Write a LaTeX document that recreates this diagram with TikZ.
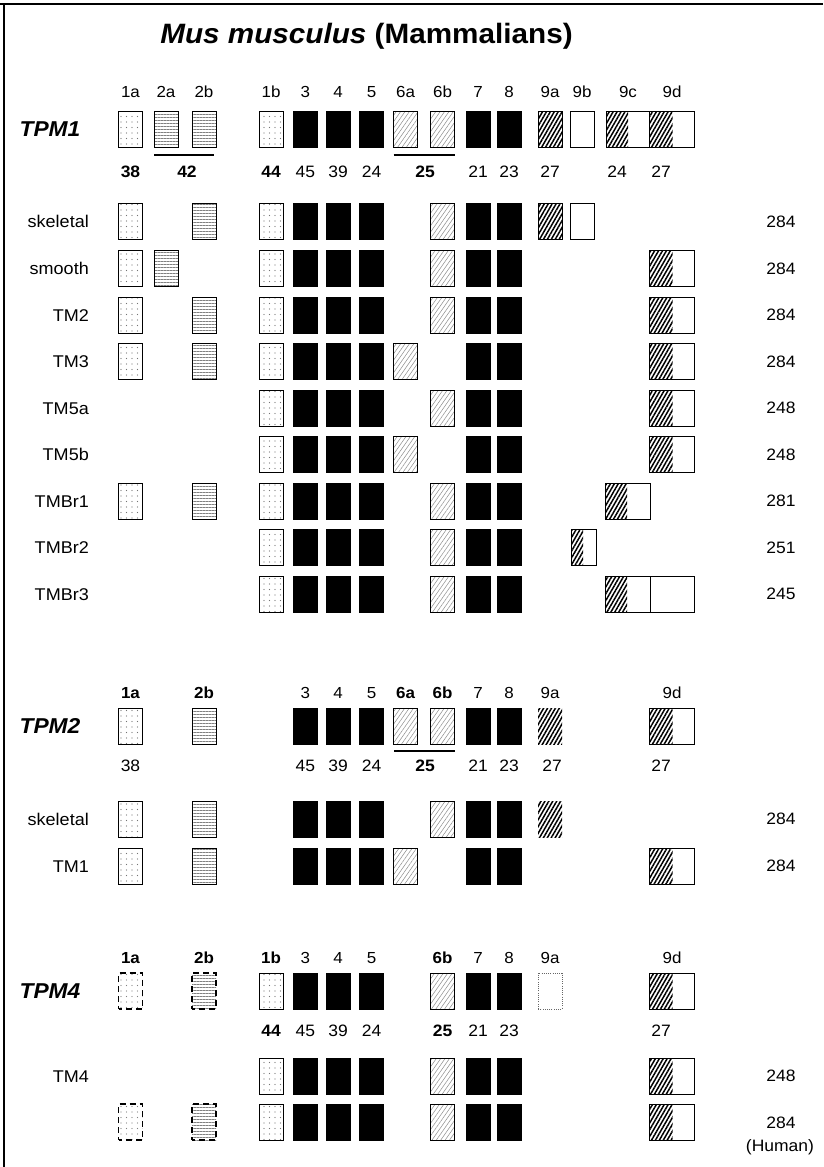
\documentclass[tikz,border=0pt]{standalone}
\usepackage{fontspec}
\setmainfont[FakeStretch=1.06]{Liberation Sans}
\usetikzlibrary{patterns.meta}
\def\colA{130.5}\def\colB{166}\def\colC{204}\def\colD{271}\def\colE{305.3}
\def\colF{338}\def\colG{371.7}\def\colH{405.5}\def\colI{442.5}\def\colJ{478}
\def\colK{509}\def\colL{550}\def\colM{582}
\newcommand\ex[3]{\path[#1] ({#2-12},{-(#3)-18}) rectangle ({#2+12},{-(#3)+18});}
\newcommand\halfbox[4]{%
  \path[strb] (#1,{-(#4)-18}) rectangle (#2,{-(#4)+18});
  \draw[bx] (#1,{-(#4)-18}) rectangle (#3,{-(#4)+18});}
\newcommand\corerow[1]{%
  \ex{dotbox}{\colD}{#1}\ex{blk}{\colE}{#1}\ex{blk}{\colF}{#1}\ex{blk}{\colG}{#1}
  \ex{blk}{\colJ}{#1}\ex{blk}{\colK}{#1}}
\newcommand\ninedee[1]{\halfbox{649.5}{672.5}{694}{#1}}
\begin{document}
\begin{tikzpicture}[x=1pt,y=1pt,
  bx/.style={draw=black,line width=1pt},
  dotbox/.style={bx,pattern={Dots[radius=0.6pt,distance=5.5pt]},pattern color=black!55},
  hlbox/.style={bx,pattern={Lines[angle=0,distance=3pt,line width=0.8pt]},pattern color=black!50},
  diagbox/.style={bx,pattern={Lines[angle=55,distance=3.6pt,line width=0.5pt]},pattern color=black!45},
  strb/.style={pattern={Lines[angle=60,distance=3.4pt,line width=1.5pt]},pattern color=black},
  strbox/.style={bx,strb},
  blk/.style={draw=black,fill=black,line width=1pt},
  wht/.style={bx,fill=white},
  dashdot/.style={draw=black,line width=1.1pt,dash pattern=on 6pt off 4pt,dash phase=3pt,pattern={Dots[radius=0.6pt,distance=5.5pt]},pattern color=black!50},
  dashhl/.style={draw=black,line width=1.1pt,dash pattern=on 6pt off 4pt,dash phase=3pt,pattern={Lines[angle=0,distance=3pt,line width=0.8pt]},pattern color=black!50},
  dotted9/.style={draw=black!60,line width=0.9pt,dash pattern=on 1pt off 1.2pt},
  hdr/.style={font=\fontsize{16}{18}\selectfont,inner sep=0pt,text height=11.4pt,text depth=0pt},
  hdrb/.style={hdr,font=\fontsize{16}{18}\selectfont\bfseries},
  num/.style={font=\fontsize{16.5}{18}\selectfont,inner sep=0pt,text height=11.8pt,text depth=0pt},
  numb/.style={num,font=\fontsize{16.5}{18}\selectfont\bfseries},
  rowlab/.style={font=\fontsize{17}{19}\selectfont,anchor=east,inner sep=0pt,text height=12.2pt,text depth=0pt},
  rnum/.style={font=\fontsize{16.5}{19}\selectfont,inner sep=0pt,text height=11.8pt,text depth=0pt},
  gene/.style={font=\fontsize{21.5}{24}\selectfont\bfseries\itshape,inner sep=0pt,text height=15.4pt,text depth=0pt},
  uline/.style={draw=black,line width=1.4pt}]
\useasboundingbox (0,0) rectangle (823,-1167);
\fill[white] (0,0) rectangle (823,-1167);
\draw[line width=2pt] (0,-4.3) -- (823,-4.3);
\draw[line width=1.3pt] (4,-4.3) -- (4,-1167);
\node[font=\fontsize{28}{32}\selectfont\bfseries] (title) at (366.5,-36) {\textit{Mus musculus} (Mammalians)};
% ---------------- TPM1 ----------------
\node[gene] (g1) at (50,-129) {TPM1};
\foreach \xx/\tt/\nn in {\colA/1a/a,\colB/2a/b,\colC/2b/c,\colD/1b/d,\colE/3/e,\colF/4/f,\colG/5/g,\colH/6a/h,\colI/6b/i,\colJ/7/j,\colK/8/k,\colL/9a/l,\colM/9b/m,628/9c/n,672/9d/o}
  \node[hdr] (h1\nn) at (\xx,-91.7) {\tt};
\ex{dotbox}{\colA}{129}\ex{hlbox}{\colB}{129}\ex{hlbox}{\colC}{129}
\corerow{129}\ex{diagbox}{\colH}{129}\ex{diagbox}{\colI}{129}
\ex{strbox}{\colL}{129}\ex{wht}{\colM}{129}
\path[strb] (606,-147) rectangle (628,-111);
\path[strb] (649.5,-147) rectangle (672.5,-111);
\draw[bx] (606,-147) rectangle (694,-111);
\draw[bx] (649.5,-147) -- (649.5,-111);
\coordinate (u1a) at (154,-155); \coordinate (u1b) at (214,-155);
\coordinate (u2a) at (393.5,-155); \coordinate (u2b) at (454.5,-155);
\draw[uline] (u1a) -- (u1b); \draw[uline] (u2a) -- (u2b);
\node[numb] (n1a) at (\colA,-171.7) {38};
\node[numb] (n1b) at (187,-171.7) {42};
\node[numb] (n1c) at (\colD,-171.7) {44};
\node[num] (n1d) at (\colE,-171.7) {45};
\node[num] (n1e) at (\colF,-171.7) {39};
\node[num] (n1f) at (\colG,-171.7) {24};
\node[numb] (n1g) at (425,-171.7) {25};
\node[num] (n1h) at (\colJ,-171.7) {21};
\node[num] (n1i) at (\colK,-171.7) {23};
\node[num] (n1j) at (\colL,-171.7) {27};
\node[num] (n1k) at (617,-171.7) {24};
\node[num] (n1l) at (661,-171.7) {27};
% isoforms
\node[rowlab] (r1) at (89,-221.7) {skeletal};
\ex{dotbox}{\colA}{221.7}\ex{hlbox}{\colC}{221.7}\corerow{221.7}\ex{diagbox}{\colI}{221.7}
\ex{strbox}{\colL}{221.7}\ex{wht}{\colM}{221.7}
\node[rnum] (q1) at (781,-221.7) {284};
\node[rowlab] (r2) at (89,-268.5) {smooth};
\ex{dotbox}{\colA}{268.5}\ex{hlbox}{\colB}{268.5}\corerow{268.5}\ex{diagbox}{\colI}{268.5}\ninedee{268.5}
\node[rnum] (q2) at (781,-268.5) {284};
\node[rowlab] (r3) at (89,-315) {TM2};
\ex{dotbox}{\colA}{315}\ex{hlbox}{\colC}{315}\corerow{315}\ex{diagbox}{\colI}{315}\ninedee{315}
\node[rnum] (q3) at (781,-315) {284};
\node[rowlab] (r4) at (89,-361.5) {TM3};
\ex{dotbox}{\colA}{361.5}\ex{hlbox}{\colC}{361.5}\corerow{361.5}\ex{diagbox}{\colH}{361.5}\ninedee{361.5}
\node[rnum] (q4) at (781,-361.5) {284};
\node[rowlab] (r5) at (89,-408) {TM5a};
\corerow{408}\ex{diagbox}{\colI}{408}\ninedee{408}
\node[rnum] (q5) at (781,-408) {248};
\node[rowlab] (r6) at (89,-454.5) {TM5b};
\corerow{454.5}\ex{diagbox}{\colH}{454.5}\ninedee{454.5}
\node[rnum] (q6) at (781,-454.5) {248};
\node[rowlab] (r7) at (89,-501) {TMBr1};
\ex{dotbox}{\colA}{501}\ex{hlbox}{\colC}{501}\corerow{501}\ex{diagbox}{\colI}{501}
\halfbox{605}{627}{650}{501}
\node[rnum] (q7) at (781,-501) {281};
\node[rowlab] (r8) at (89,-547.5) {TMBr2};
\corerow{547.5}\ex{diagbox}{\colI}{547.5}
\halfbox{571}{583}{596}{547.5}
\node[rnum] (q8) at (781,-547.5) {251};
\node[rowlab] (r9) at (89,-594) {TMBr3};
\corerow{594}\ex{diagbox}{\colI}{594}
\halfbox{605}{627}{694}{594}
\draw[bx] (650,-612) -- (650,-576);
\node[rnum] (q9) at (781,-594) {245};
% ---------------- TPM2 ----------------
\node[gene] (g2) at (50,-726) {TPM2};
\node[hdrb] (h2a) at (\colA,-693) {1a};
\node[hdrb] (h2c) at (\colC,-693) {2b};
\node[hdr] (h2e) at (\colE,-693) {3};
\node[hdr] (h2f) at (\colF,-693) {4};
\node[hdr] (h2g) at (\colG,-693) {5};
\node[hdrb] (h2h) at (\colH,-693) {6a};
\node[hdrb] (h2i) at (\colI,-693) {6b};
\node[hdr] (h2j) at (\colJ,-693) {7};
\node[hdr] (h2k) at (\colK,-693) {8};
\node[hdr] (h2l) at (\colL,-693) {9a};
\node[hdr] (h2o) at (672,-693) {9d};
\ex{dotbox}{\colA}{726}\ex{hlbox}{\colC}{726}
\ex{blk}{\colE}{726}\ex{blk}{\colF}{726}\ex{blk}{\colG}{726}
\ex{diagbox}{\colH}{726}\ex{diagbox}{\colI}{726}
\ex{blk}{\colJ}{726}\ex{blk}{\colK}{726}
\ex{strb}{\colL}{726}\ninedee{726}
\coordinate (u3a) at (394,-751); \coordinate (u3b) at (455,-751);
\draw[uline] (u3a) -- (u3b);
\node[num] (n2a) at (\colA,-766) {38};
\node[num] (n2d) at (\colE,-766) {45};
\node[num] (n2e) at (\colF,-766) {39};
\node[num] (n2f) at (\colG,-766) {24};
\node[numb] (n2g) at (425,-766) {25};
\node[num] (n2h) at (\colJ,-766) {21};
\node[num] (n2i) at (\colK,-766) {23};
\node[num] (n2j) at (552,-766) {27};
\node[num] (n2l) at (661,-766) {27};
\node[rowlab] (s1) at (89,-819) {skeletal};
\ex{dotbox}{\colA}{819}\ex{hlbox}{\colC}{819}
\ex{blk}{\colE}{819}\ex{blk}{\colF}{819}\ex{blk}{\colG}{819}
\ex{diagbox}{\colI}{819}\ex{blk}{\colJ}{819}\ex{blk}{\colK}{819}
\ex{strb}{\colL}{819}
\node[rnum] (p1) at (781,-819) {284};
\node[rowlab] (s2) at (89,-866) {TM1};
\ex{dotbox}{\colA}{866}\ex{hlbox}{\colC}{866}
\ex{blk}{\colE}{866}\ex{blk}{\colF}{866}\ex{blk}{\colG}{866}
\ex{diagbox}{\colH}{866}\ex{blk}{\colJ}{866}\ex{blk}{\colK}{866}
\ninedee{866}
\node[rnum] (p2) at (781,-866) {284};
% ---------------- TPM4 ----------------
\node[gene] (g4) at (50,-991) {TPM4};
\node[hdrb] (h4a) at (\colA,-958) {1a};
\node[hdrb] (h4c) at (\colC,-958) {2b};
\node[hdrb] (h4d) at (\colD,-958) {1b};
\node[hdr] (h4e) at (\colE,-958) {3};
\node[hdr] (h4f) at (\colF,-958) {4};
\node[hdr] (h4g) at (\colG,-958) {5};
\node[hdrb] (h4i) at (\colI,-958) {6b};
\node[hdr] (h4j) at (\colJ,-958) {7};
\node[hdr] (h4k) at (\colK,-958) {8};
\node[hdr] (h4l) at (\colL,-958) {9a};
\node[hdr] (h4o) at (672,-958) {9d};
\ex{dashdot}{\colA}{991}\ex{dashhl}{\colC}{991}
\corerow{991}\ex{diagbox}{\colI}{991}
\ex{dotted9}{\colL}{991}\ninedee{991}
\node[numb] (n4c) at (\colD,-1031) {44};
\node[num] (n4d) at (\colE,-1031) {45};
\node[num] (n4e) at (\colF,-1031) {39};
\node[num] (n4f) at (\colG,-1031) {24};
\node[numb] (n4g) at (\colI,-1031) {25};
\node[num] (n4h) at (\colJ,-1031) {21};
\node[num] (n4i) at (\colK,-1031) {23};
\node[num] (n4l) at (661,-1031) {27};
\node[rowlab] (t1) at (89,-1076) {TM4};
\corerow{1076}\ex{diagbox}{\colI}{1076}\ninedee{1076}
\node[rnum] (o1) at (781,-1076) {248};
\ex{dashdot}{\colA}{1122}\ex{dashhl}{\colC}{1122}
\corerow{1122}\ex{diagbox}{\colI}{1122}\ninedee{1122}
\node[rnum] (o2) at (781,-1123) {284};
\node[rnum,text height=12pt,text depth=3.5pt] (o3) at (780,-1147) {(Human)};
\end{tikzpicture}
\end{document}
